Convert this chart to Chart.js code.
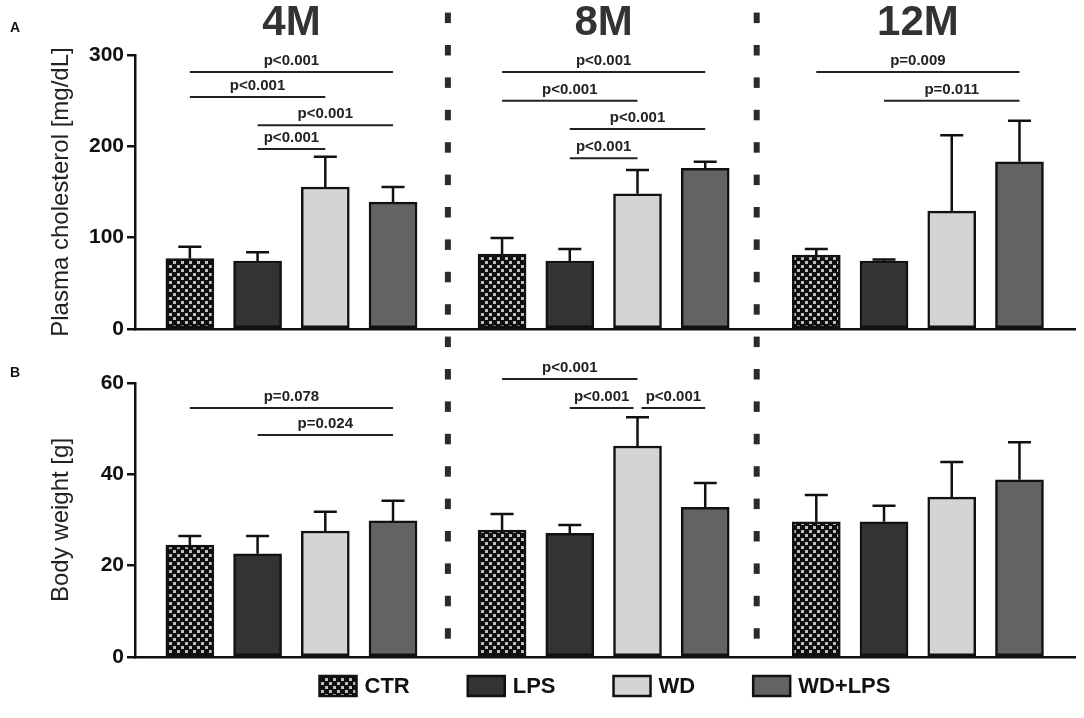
<!DOCTYPE html>
<html lang="en">
<head>
<meta charset="UTF-8">
<title>Plasma cholesterol and body weight</title>
<script src="https://cdn.jsdelivr.net/npm/chart.js"></script>
<style>
  body { margin: 0; background: #fff; }
  .panel { position: absolute; left: 0; width: 1084px; }
  #panelA { top: 0; height: 345px; }
  #panelB { top: 345px; height: 373px; }
</style>
</head>
<body>
<div class="panel" id="panelA"><canvas id="cholChart"></canvas></div>
<div class="panel" id="panelB"><canvas id="weightChart"></canvas></div>
<script>
const ages = ['4M', '8M', '12M'];
const diets = ['CTR', 'LPS', 'WD', 'WD+LPS'];

// plasma cholesterol [mg/dL], mean and upper SD per age group
const cholCTR = [77, 82, 81];
const cholLPS = [74.5, 74.5, 74.5];
const cholWD = [155.5, 148, 129];
const cholWDLPS = [139, 176, 183];
const cholSdCTR = [13, 17.5, 6.5];
const cholSdLPS = [9.5, 13, 1.5];
const cholSdWD = [33, 26, 83];
const cholSdWDLPS = [16.5, 7, 45];

// body weight [g]
const bwCTR = [24.5, 27.8, 29.6];
const bwLPS = [22.6, 27.1, 29.6];
const bwWD = [27.6, 46.2, 35.0];
const bwWDLPS = [29.8, 32.8, 38.8];
const bwSdCTR = [2, 3.5, 5.9];
const bwSdLPS = [3.9, 1.8, 3.5];
const bwSdWD = [4.2, 6.3, 7.7];
const bwSdWDLPS = [4.4, 5.3, 8.2];

const cholTicks = [0, 100, 200, 300];
const bwTicks = [0, 20, 40, 60];

// significance bars: [age, from bar, to bar, height, label]
const cholPairs = [
  [0, 0, 3, 281.5, 'p<0.001'],
  [0, 0, 2, 254, 'p<0.001'],
  [0, 1, 3, 223, 'p<0.001'],
  [0, 1, 2, 197, 'p<0.001'],
  [1, 0, 3, 281.5, 'p<0.001'],
  [1, 0, 2, 250, 'p<0.001'],
  [1, 1, 3, 219, 'p<0.001'],
  [1, 1, 2, 187, 'p<0.001'],
  [2, 0, 3, 281.5, 'p=0.009'],
  [2, 1, 3, 250, 'p=0.011']
];
const bwPairs = [
  [0, 0, 3, 54.5, 'p=0.078'],
  [0, 1, 3, 48.6, 'p=0.024'],
  [1, 0, 2, 60.9, 'p<0.001'],
  [1, 1, 2, 54.5, 'p<0.001'],
  [1, 2, 3, 54.5, 'p<0.001']
];

// layout on the x scale (one unit = one bar slot)
const groupStart = [0, 4.61, 9.25];
const dividers = [3.81, 8.37];
const FONT = '"Liberation Sans", Arial, sans-serif';
const INK = '#111';

function checker() {
  const c = document.createElement('canvas');
  c.width = 8; c.height = 8;
  const g = c.getContext('2d');
  g.fillStyle = '#0e0e0e'; g.fillRect(0, 0, 8, 8);
  g.fillStyle = '#bdbdbd'; g.fillRect(1, 1, 3, 3); g.fillRect(5, 5, 3, 3);
  return g.createPattern(c, 'repeat');
}
const fills = [checker(), '#333333', '#d4d4d4', '#636363'];

function makeSets(values, sds) {
  return diets.map((d, i) => ({
    label: d,
    data: values[i].map((v, g) => ({ x: groupStart[g] + i, y: v })),
    sd: sds[i],
    backgroundColor: fills[i],
    borderColor: INK,
    borderWidth: 2.5,
    borderSkipped: false
  }));
}

const errorBars = {
  id: 'errorBars',
  afterDatasetsDraw(chart) {
    const { ctx, scales: { y } } = chart;
    ctx.save();
    ctx.strokeStyle = INK;
    ctx.lineWidth = 2.5;
    chart.data.datasets.forEach((ds, i) => {
      chart.getDatasetMeta(i).data.forEach((bar, j) => {
        const top = y.getPixelForValue(ds.data[j].y + ds.sd[j]);
        ctx.beginPath();
        ctx.moveTo(bar.x, bar.y);
        ctx.lineTo(bar.x, top);
        ctx.moveTo(bar.x - 11.5, top);
        ctx.lineTo(bar.x + 11.5, top);
        ctx.stroke();
      });
    });
    ctx.restore();
  }
};

const decor = {
  id: 'decor',
  afterDraw(chart, args, o) {
    const { ctx, chartArea: a, scales: { x, y } } = chart;
    ctx.save();

    // dashed separators, continuous over both panels
    ctx.fillStyle = '#2b2b2b';
    dividers.forEach(d => {
      const px = x.getPixelForValue(d);
      for (let yy = 12.6; yy < 640; yy += 32.4) ctx.fillRect(px - 3, yy - o.top, 6, 10.5);
    });

    // significance bars
    ctx.strokeStyle = '#222';
    ctx.lineWidth = 2;
    ctx.fillStyle = '#222';
    ctx.font = 'bold 15px ' + FONT;
    ctx.textAlign = 'center';
    ctx.textBaseline = 'alphabetic';
    o.pairs.forEach(p => {
      const [g, from, to, h, label] = p;
      let x1 = x.getPixelForValue(groupStart[g] + from);
      let x2 = x.getPixelForValue(groupStart[g] + to);
      o.pairs.forEach(q => {
        if (q === p || q[0] !== g || q[3] !== h) return;
        if (q[1] === to) x2 -= 4;
        if (q[2] === from) x1 += 4;
      });
      const py = y.getPixelForValue(h);
      ctx.beginPath();
      ctx.moveTo(x1, py);
      ctx.lineTo(x2, py);
      ctx.stroke();
      ctx.fillText(label, (x1 + x2) / 2, py - 7);
    });

    // age titles
    if (o.titles) {
      ctx.fillStyle = '#333';
      ctx.font = 'bold 42px ' + FONT;
      ages.forEach((t, g) => ctx.fillText(t, x.getPixelForValue(groupStart[g] + 1.5), 35 - o.top));
    }

    // panel letter
    ctx.fillStyle = INK;
    ctx.textAlign = 'left';
    ctx.font = 'bold 14px ' + FONT;
    ctx.fillText(o.letter, 10, o.letterY - o.top);

    // legend
    if (o.legend) {
      ctx.font = 'bold 22px ' + FONT;
      const sw = 37, sh = 20, gap = 8, pad = 58;
      const sets = chart.data.datasets;
      const widths = sets.map(ds => sw + gap + ctx.measureText(ds.label).width);
      const total = widths.reduce((s, w) => s + w, 0) + pad * (sets.length - 1);
      let lx = (a.left + a.right) / 2 - total / 2;
      const cy = o.legendY - o.top;
      ctx.textBaseline = 'middle';
      sets.forEach((ds, i) => {
        ctx.fillStyle = ds.backgroundColor;
        ctx.fillRect(lx, cy - sh / 2, sw, sh);
        ctx.strokeStyle = INK;
        ctx.lineWidth = 2.5;
        ctx.strokeRect(lx, cy - sh / 2, sw, sh);
        ctx.fillStyle = INK;
        ctx.fillText(ds.label, lx + sw + gap, cy + 1);
        lx += widths[i] + pad;
      });
    }
    ctx.restore();
  }
};

function yAxis(title, ticks) {
  return {
    min: ticks[0],
    max: ticks[ticks.length - 1],
    afterBuildTicks(s) { s.ticks = ticks.map(v => ({ value: v })); },
    afterFit(s) { s.width = 135; },
    ticks: { font: { family: FONT, size: 21, weight: 'bold' }, color: INK, padding: 3 },
    grid: { drawOnChartArea: false, drawTicks: true, tickLength: 8, color: INK, lineWidth: 2.5 },
    border: { color: INK, width: 2.5 },
    title: {
      display: true, text: title, color: '#222',
      font: { family: FONT, size: 24 },
      padding: { top: 47, bottom: 0 }
    }
  };
}

function xAxis() {
  return {
    type: 'linear', min: -0.81, max: 13.07, offset: false,
    ticks: { display: false },
    grid: { display: false },
    border: { display: true, color: INK, width: 2.5 },
    afterFit(s) { s.height = 0; }
  };
}

function makeChart(id, sets, ticks, title, pad, decorOpts) {
  return new Chart(document.getElementById(id), {
    type: 'bar',
    data: { datasets: sets },
    options: {
      responsive: true,
      maintainAspectRatio: false,
      animation: false,
      layout: { padding: pad },
      datasets: { bar: { barThickness: 48, grouped: false } },
      scales: { x: xAxis(), y: yAxis(title, ticks) },
      plugins: { legend: { display: false }, tooltip: { enabled: false }, decor: decorOpts }
    },
    plugins: [errorBars, decor]
  });
}

makeChart('cholChart',
  makeSets([cholCTR, cholLPS, cholWD, cholWDLPS], [cholSdCTR, cholSdLPS, cholSdWD, cholSdWDLPS]),
  cholTicks, 'Plasma cholesterol [mg/dL]',
  { top: 55, bottom: 16, left: 0, right: 9 },
  { top: 0, pairs: cholPairs, titles: true, letter: 'A', letterY: 32, legend: false });

makeChart('weightChart',
  makeSets([bwCTR, bwLPS, bwWD, bwWDLPS], [bwSdCTR, bwSdLPS, bwSdWD, bwSdWDLPS]),
  bwTicks, 'Body weight [g]',
  { top: 38, bottom: 61, left: 0, right: 9 },
  { top: 345, pairs: bwPairs, titles: false, letter: 'B', letterY: 377, legend: true, legendY: 686 });
</script>
</body>
</html>
